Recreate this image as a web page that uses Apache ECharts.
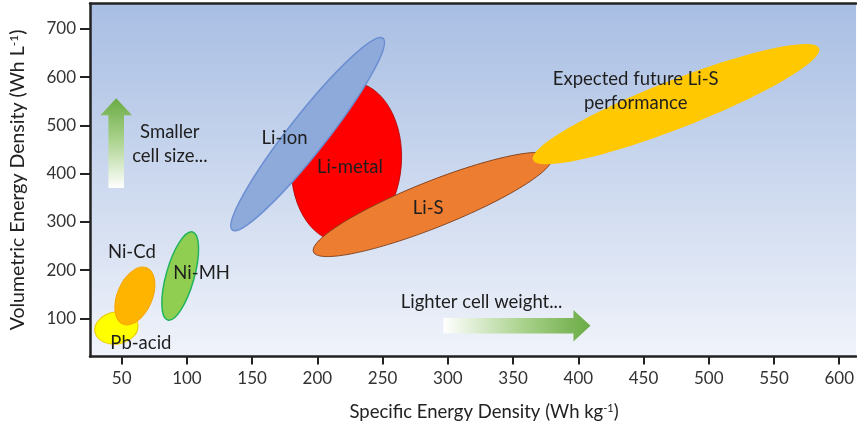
<!DOCTYPE html>
<html>
<head>
<meta charset="utf-8">
<script src="https://cdn.jsdelivr.net/npm/echarts@6/dist/echarts.min.js"></script>
<style>html,body{margin:0;padding:0;background:#fff;}#c{width:857px;height:427px;}</style>
</head>
<body>
<div id="c"></div>
<script>
// Axis ticks
const xTicks = [50, 100, 150, 200, 250, 300, 350, 400, 450, 500, 550, 600];
const yTicks = [100, 200, 300, 400, 500, 600, 700];

// Each technology region: [major-axis end A], [major-axis end B], [end of minor axis]
// in (Wh/kg, Wh/L)
const regionNames = ['Pb-acid', 'Ni-Cd', 'Ni-MH', 'Li-metal', 'Li-ion', 'Li-S', 'Expected future Li-S performance'];
const pbAcid   = [[29.5, 71.7], [62.4, 88.3], [48.2, 47.5]];
const niCd     = [[69.3, 204.4], [50.9, 88.3], [72.4, 132.1]];
const niMH     = [[104.4, 279.1], [85.3, 96.6], [105.2, 180.0]];
const liMetal  = [[227.5, 590.1], [217.0, 258.3], [264.4, 420.0]];
const liIon    = [[134.8, 283.2], [250.3, 680.7], [203.9, 457.6]];
const liS      = [[197.0, 237.6], [379.7, 434.6], [294.8, 291.7]];
const futureLiS = [[365.4, 428.4], [584.6, 660.0], [481.7, 497.6]];

// Text annotations: anchor (Wh/kg, Wh/L)
const labelTexts = ['Ni-Cd', 'Ni-MH', 'Pb-acid', 'Li-ion', 'Li-metal', 'Li-S',
  'Expected future Li-S\nperformance', 'Smaller\ncell size...', 'Lighter cell weight...'];
const labelX = [57.8, 111.3, 64.7, 174.8, 224.9, 284.9, 444.0, 86.9, 325.8];
const labelY = [237.6, 194.1, 48.9, 474.0, 414.3, 328.8, 570.4, 461.5, 134.6];

// Trend arrows: tail -> tip (Wh/kg, Wh/L)
const arrowTail = [[45.8, 370.3], [296.6, 84.6]];
const arrowTip  = [[45.8, 556.3], [409.3, 84.6]];

const regions = [pbAcid, niCd, niMH, liMetal, liIon, liS, futureLiS];
const regionStyles = [
  {fill: '#ffff00', stroke: '#e9c800', lineWidth: 1},
  {fill: '#ffb400', stroke: '#f5a500', lineWidth: 1},
  {fill: '#8fce50', stroke: '#21b35e', lineWidth: 1.5},
  {fill: '#ff0000', stroke: '#b00000', lineWidth: 0.8},
  {fill: '#8eaadb', stroke: '#6b8fd2', lineWidth: 1.5},
  {fill: '#ed7d31', stroke: '#7a3d1a', lineWidth: 0.8},
  {fill: '#ffc800', stroke: null, lineWidth: 0}
];

const FONT = 'Lato, "Open Sans", sans-serif';

function ellipseRender(style) {
  return function (params, api) {
    const p1 = api.coord([api.value(0), api.value(1)]);
    const p2 = api.coord([api.value(2), api.value(3)]);
    const pm = api.coord([api.value(4), api.value(5)]);
    const cx = (p1[0] + p2[0]) / 2, cy = (p1[1] + p2[1]) / 2;
    const dx = p2[0] - p1[0], dy = p2[1] - p1[1];
    const len = Math.hypot(dx, dy);
    const a = len / 2;
    const ux = dx / len, uy = dy / len;
    const b = Math.abs((pm[0] - cx) * (-uy) + (pm[1] - cy) * ux);
    const ang = Math.atan2(dy, dx);
    return {
      type: 'ellipse',
      x: cx, y: cy, rotation: -ang,
      shape: {cx: 0, cy: 0, rx: a, ry: b},
      style: {fill: style.fill, stroke: style.stroke, lineWidth: style.lineWidth}
    };
  };
}

const series = regions.map(function (r, i) {
  return {
    type: 'custom',
    name: regionNames[i],
    coordinateSystem: 'cartesian2d',
    silent: true,
    renderItem: ellipseRender(regionStyles[i]),
    encode: {x: [0, 2, 4], y: [1, 3, 5]},
    data: [[r[0][0], r[0][1], r[1][0], r[1][1], r[2][0], r[2][1]]],
    z: 2 + i
  };
});

// arrows
series.push({
  type: 'custom',
  coordinateSystem: 'cartesian2d',
  silent: true,
  encode: {x: [0, 2], y: [1, 3]},
  data: arrowTail.map(function (t, i) { return [t[0], t[1], arrowTip[i][0], arrowTip[i][1]]; }),
  renderItem: function (params, api) {
    const t = api.coord([api.value(0), api.value(1)]);
    const p = api.coord([api.value(2), api.value(3)]);
    const dx = p[0] - t[0], dy = p[1] - t[1];
    const len = Math.hypot(dx, dy);
    const ux = dx / len, uy = dy / len;
    const nx = -uy, ny = ux;
    const w = 7.8, H = 15.8, L = 17;
    const bx = p[0] - ux * L, by = p[1] - uy * L;
    const pts = [
      [t[0] + nx * w, t[1] + ny * w],
      [bx + nx * w, by + ny * w],
      [bx + nx * H, by + ny * H],
      [p[0], p[1]],
      [bx - nx * H, by - ny * H],
      [bx - nx * w, by - ny * w],
      [t[0] - nx * w, t[1] - ny * w]
    ];
    let g;
    if (Math.abs(dx) > Math.abs(dy)) {
      g = {type: 'linear', x: dx > 0 ? 0 : 1, y: 0, x2: dx > 0 ? 1 : 0, y2: 0};
    } else {
      g = {type: 'linear', x: 0, y: dy > 0 ? 0 : 1, x2: 0, y2: dy > 0 ? 1 : 0};
    }
    g.colorStops = [{offset: 0, color: '#ffffff'}, {offset: 0.55, color: '#a8d18a'}, {offset: 1, color: '#6aab44'}];
    return {type: 'polygon', shape: {points: pts}, style: {fill: g}};
  },
  z: 20
});

// labels
series.push({
  type: 'custom',
  coordinateSystem: 'cartesian2d',
  silent: true,
  encode: {x: 0, y: 1},
  data: labelX.map(function (x, i) { return [x, labelY[i]]; }),
  renderItem: function (params, api) {
    const c = api.coord([api.value(0), api.value(1)]);
    return {
      type: 'text',
      x: c[0], y: c[1],
      style: {
        text: labelTexts[params.dataIndex],
        fill: '#1e1e1e',
        font: '18.5px ' + FONT,
        align: 'center',
        verticalAlign: 'middle',
        lineHeight: 24
      }
    };
  },
  z: 30
});

const X_MIN = 25.7, X_MAX = 612.9;

const chart = echarts.init(document.getElementById('c'), null, {renderer: 'canvas'});
chart.setOption({
  animation: false,
  backgroundColor: '#ffffff',
  grid: {
    left: 89, top: 3.5, right: 0, bottom: 70.5,
    show: true, borderWidth: 0,
    backgroundColor: {
      type: 'linear', x: 0, y: 0, x2: 0, y2: 1,
      colorStops: [{offset: 0, color: '#a8bee3'}, {offset: 1, color: '#f0f3fa'}]
    }
  },
  xAxis: [{
    type: 'value', min: X_MIN, max: X_MAX,
    splitLine: {show: false},
    axisLine: {show: true, lineStyle: {color: '#222', width: 2.5}},
    axisTick: {show: true, length: 8, lineStyle: {color: '#222', width: 2}, customValues: xTicks},
    axisLabel: {customValues: xTicks, margin: 14, fontSize: 17, color: '#333', fontFamily: FONT},
    name: 'Specific Energy Density (Wh kg{sup|-1})',
    nameLocation: 'middle', nameGap: 46,
    nameTextStyle: {fontSize: 18.5, color: '#222', fontFamily: FONT, padding: [0, 0, 0, 22],
      rich: {sup: {fontSize: 11, verticalAlign: 'top', fontFamily: FONT, color: '#222'}}}
  }, {
    type: 'value', position: 'top', min: X_MIN, max: X_MAX,
    splitLine: {show: false},
    axisLine: {show: true, lineStyle: {color: '#222', width: 2.5}},
    axisTick: {show: false}, axisLabel: {show: false}
  }],
  yAxis: {
    type: 'value', min: 20.9, max: 752.8,
    splitLine: {show: false},
    axisLine: {show: true, lineStyle: {color: '#222', width: 2.5}},
    axisTick: {show: true, length: 10, lineStyle: {color: '#222', width: 2}, customValues: yTicks},
    axisLabel: {customValues: yTicks, margin: 14, fontSize: 17, color: '#333', fontFamily: FONT},
    name: 'Volumetric Energy Density (Wh L{sup|-1})',
    nameLocation: 'middle', nameGap: 62,
    nameTextStyle: {fontSize: 19.5, color: '#222', fontFamily: FONT,
      rich: {sup: {fontSize: 12, verticalAlign: 'top', fontFamily: FONT, color: '#222'}}}
  },
  series: series
});
</script>
</body>
</html>
